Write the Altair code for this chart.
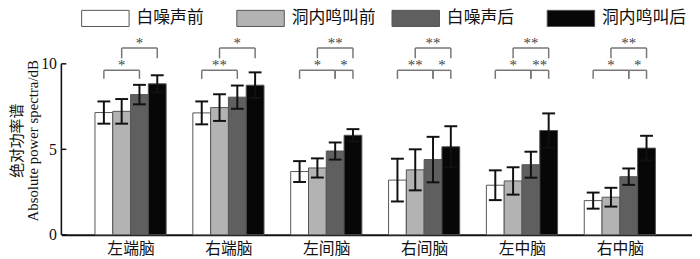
import altair as alt
import pandas as pd

# ---------------- data ----------------
regions = ["左端脑", "右端脑", "左间脑", "右间脑", "左中脑", "右中脑"]
conditions = ["白噪声前", "洞内鸣叫前", "白噪声后", "洞内鸣叫后"]
colors = ["#ffffff", "#b3b3b3", "#5f5f5f", "#070707"]

white_mean = [7.15, 7.13, 3.70, 3.20, 2.90, 2.00]
light_mean = [7.22, 7.44, 3.91, 3.80, 3.15, 2.20]
dark_mean = [8.20, 8.05, 4.90, 4.40, 4.10, 3.40]
black_mean = [8.83, 8.75, 5.82, 5.15, 6.10, 5.07]

white_err = [0.65, 0.67, 0.61, 1.25, 0.87, 0.47]
light_err = [0.72, 0.78, 0.56, 1.20, 0.80, 0.55]
dark_err = [0.57, 0.68, 0.50, 1.33, 0.76, 0.48]
black_err = [0.50, 0.75, 0.36, 1.20, 1.00, 0.72]

# significance brackets: region index, bar a, bar b, level, label
sig_region = [0, 0, 1, 1, 2, 2, 2, 3, 3, 3, 4, 4, 4, 5, 5, 5]
sig_a = [0, 1, 0, 1, 0, 2, 1, 0, 2, 1, 0, 2, 1, 0, 2, 1]
sig_b = [2, 3, 2, 3, 2, 3, 3, 2, 3, 3, 2, 3, 3, 2, 3, 3]
sig_level = ["low", "high", "low", "high", "low", "low", "high", "low", "low", "high",
             "low", "low", "high", "low", "low", "high"]
sig_label = ["*", "*", "**", "*", "*", "*", "**", "**", "*", "**",
             "*", "**", "**", "*", "*", "**"]

# ---------------- layout constants ----------------
STEP_PX = 99.0
BAR_PX = 18.0
CAP_PX = 13.0
PLOT_W = 638
PX_PER_UNIT = 17.3
Y_MAX = 12
PLOT_H = Y_MAX * PX_PER_UNIT
X0 = -70.0 / STEP_PX
X1 = X0 + PLOT_W / STEP_PX
bw = BAR_PX / STEP_PX
cap = CAP_PX / STEP_PX / 2

line_y = {"high": 10.92, "low": 9.62}
leg_len = {"high": 0.60, "low": 0.50}
star_y = {"high": 10.90, "low": 9.62}

FONT = "Liberation Serif, Noto Sans CJK SC"

means = [white_mean, light_mean, dark_mean, black_mean]
errs = [white_err, light_err, dark_err, black_err]

rows = []
for i, r in enumerate(regions):
    for j, c in enumerate(conditions):
        pos = i + (j - 1.5) * bw
        m = means[j][i]
        e = errs[j][i]
        rows.append({
            "region": r, "cond": c, "mean": m, "base": 0.0,
            "pos": pos, "xl": pos - bw / 2, "xr": pos + bw / 2,
            "lo": m - e, "hi": m + e, "cl": pos - cap, "cr": pos + cap,
        })
df = pd.DataFrame(rows)

srows, lrows = [], []
for k in range(len(sig_region)):
    i = sig_region[k]
    xa = i + (sig_a[k] - 1.5) * bw
    xb = i + (sig_b[k] - 1.5) * bw
    lv = sig_level[k]
    ly = line_y[lv]
    srows.append({"xa": xa, "xb": xb, "ly": ly, "mid": (xa + xb) / 2,
                  "sy": star_y[lv], "label": sig_label[k]})
    for xx in (xa, xb):
        lrows.append({"x": xx, "y1": ly, "y0": ly - leg_len[lv]})
sdf = pd.DataFrame(srows)
ldf = pd.DataFrame(lrows)

ticks_df = pd.DataFrame({"t": [0, 5, 10]})
yaxis_df = pd.DataFrame({"a": [0], "b": [10]})

label_expr = "[" + ",".join("'%s'" % r for r in regions) + "][datum.value]"

xscale = alt.Scale(domain=[X0, X1], zero=False, nice=False)
yscale = alt.Scale(domain=[0, Y_MAX], nice=False, zero=True)

x_axis = alt.Axis(values=list(range(len(regions))), labelExpr=label_expr, ticks=False,
                  grid=False, title=None, labelFont=FONT, labelFontSize=16,
                  labelColor="#111", domainColor="#111", domainWidth=2, labelPadding=6)
y_axis = alt.Axis(values=[0, 5, 10], ticks=False, domain=False, grid=False,
                  labelFont=FONT, labelFontSize=16, labelColor="#111", labelPadding=5,
                  title=["绝对功率谱", "Absolute power spectra/dB"], titleFont=FONT,
                  titleFontSize=15, titleFontWeight="normal", titleColor="#111",
                  titleY=112, titleX=-37, titleLineHeight=16)

bars = alt.Chart(df).mark_bar(stroke="#555", strokeWidth=1).encode(
    x=alt.X("xl:Q", scale=xscale, axis=x_axis),
    x2="xr:Q",
    y=alt.Y("mean:Q", scale=yscale, axis=y_axis),
    y2="base:Q",
    fill=alt.Fill("cond:N", sort=conditions,
                  scale=alt.Scale(domain=conditions, range=colors),
                  legend=alt.Legend(title=None, orient="none", legendX=20, legendY=-36,
                                    direction="horizontal", columns=4, gridAlign="all",
                                    columnPadding=14, symbolType="M-1,-0.34H1V0.34H-1Z",
                                    symbolSize=2304, symbolStrokeColor="#555",
                                    symbolStrokeWidth=1, labelFont=FONT, labelFontSize=17,
                                    labelColor="#111", labelOffset=7, padding=0)),
)

stems = alt.Chart(df).mark_rule(color="#111", strokeWidth=2).encode(
    x="pos:Q", y="lo:Q", y2="hi:Q")
cap_lo = alt.Chart(df).mark_rule(color="#111", strokeWidth=2).encode(
    x="cl:Q", x2="cr:Q", y="lo:Q")
cap_hi = alt.Chart(df).mark_rule(color="#111", strokeWidth=2).encode(
    x="cl:Q", x2="cr:Q", y="hi:Q")

br_h = alt.Chart(sdf).mark_rule(color="#777", strokeWidth=1.5).encode(
    x="xa:Q", x2="xb:Q", y="ly:Q")
br_v = alt.Chart(ldf).mark_rule(color="#777", strokeWidth=1.5).encode(
    x="x:Q", y="y0:Q", y2="y1:Q")
stars = alt.Chart(sdf).mark_text(font=FONT, fontSize=15, baseline="alphabetic").encode(
    x="mid:Q", y="sy:Q", text="label:N", fill=alt.value("#444"))

yline = alt.Chart(yaxis_df).mark_rule(color="#111", strokeWidth=1.6).encode(
    x=alt.value(0), y="a:Q", y2="b:Q")
yticks = alt.Chart(ticks_df).mark_rule(color="#111", strokeWidth=1.5).encode(
    x=alt.value(0), x2=alt.value(5), y="t:Q")

chart = alt.layer(bars, stems, cap_lo, cap_hi, br_h, br_v, stars, yline, yticks).properties(
    width=PLOT_W, height=PLOT_H,
    autosize=alt.AutoSizeParams(type="none"),
    padding={"left": 54, "top": 20.4, "right": 0, "bottom": 23},
    background="white",
).configure_view(stroke=None)

chart.save("out.html", embed_options={"renderer": "svg", "actions": False})
